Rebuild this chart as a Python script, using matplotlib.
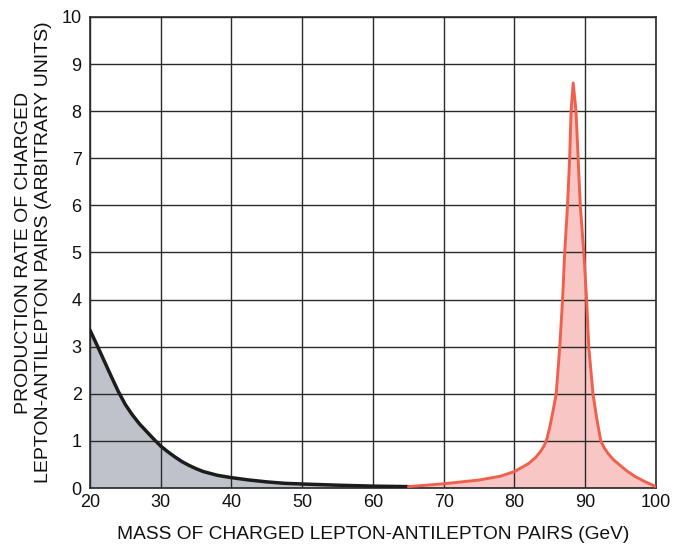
import matplotlib.pyplot as plt

plt.rcParams["font.family"] = ["Liberation Sans", "DejaVu Sans"]

# continuum (black) part
mass_low = [20, 21, 22, 23, 24, 25, 26, 27, 28, 29, 30, 31, 32, 33, 34, 35, 36,
            37, 38, 40, 42.5, 45, 47.5, 50, 55, 60, 65]
rate_low = [3.35, 3.03, 2.70, 2.37, 2.05, 1.77, 1.55, 1.36, 1.2, 1.04, 0.89,
            0.77, 0.66, 0.56, 0.48, 0.41, 0.35, 0.31, 0.27, 0.22, 0.17, 0.13,
            0.1, 0.085, 0.06, 0.04, 0.03]

# Z peak (red) part
mass_peak = [65, 70, 75, 78, 80, 82, 83, 83.7, 84.2, 84.6, 85.0, 85.4, 85.9,
             86.4, 86.8, 87.1, 87.5, 87.8, 88.0, 88.3, 88.7, 89.0, 89.3, 89.8,
             90.2, 90.5, 91.1, 91.6, 92.2, 92.7, 93.3, 94.0, 95.1, 96.0, 97.0,
             98.5, 100]
rate_peak = [0.03, 0.09, 0.17, 0.25, 0.35, 0.52, 0.65, 0.78, 0.9, 1.05, 1.3,
             1.6, 2.0, 3.0, 4.0, 5.0, 6.0, 7.0, 8.0, 8.6, 8.0, 7.0, 6.0, 5.0,
             4.0, 3.0, 2.0, 1.5, 1.0, 0.85, 0.72, 0.6, 0.46, 0.35, 0.25, 0.13,
             0.03]

x_ticks = [20, 30, 40, 50, 60, 70, 80, 90, 100]
y_ticks = [0, 1, 2, 3, 4, 5, 6, 7, 8, 9, 10]

fig = plt.figure(figsize=(6.84, 5.46), dpi=100)
ax = fig.add_axes([0.1316, 0.1062, 0.8274, 0.8627])

ax.fill_between(mass_low, rate_low, 0, color="#bfc2ca", linewidth=0, zorder=1)
ax.fill_between(mass_peak, rate_peak, 0, color="#f8c6c4", linewidth=0, zorder=1)

ax.plot(mass_low, rate_low, color="#1c1c1c", linewidth=2.5,
        solid_joinstyle="round", solid_capstyle="round", zorder=3)
ax.plot(mass_peak, rate_peak, color="#f0604c", linewidth=2.1,
        solid_joinstyle="round", solid_capstyle="round", zorder=3)

ax.set_xlim(20, 100)
ax.set_ylim(0, 10)
ax.set_xticks(x_ticks)
ax.set_yticks(y_ticks)
ax.tick_params(length=0, labelsize=13, colors="#111111")
ax.tick_params(axis="x", pad=4)
ax.tick_params(axis="y", pad=6)

ax.grid(True, color="#2a2a2a", linewidth=1.0, zorder=2)
ax.set_axisbelow(False)
for s in ax.spines.values():
    s.set_color("#2a2a2a")
    s.set_linewidth(1.2)

ax.set_xlabel("MASS OF CHARGED LEPTON-ANTILEPTON PAIRS (GeV)", fontsize=13.8,
              labelpad=11, color="#111111")
ax.set_ylabel("PRODUCTION RATE OF CHARGED\nLEPTON-ANTILEPTON PAIRS (ARBITRARY UNITS)",
              fontsize=14, labelpad=7, color="#111111", linespacing=1.2)

fig.savefig("out.png", dpi=100)
